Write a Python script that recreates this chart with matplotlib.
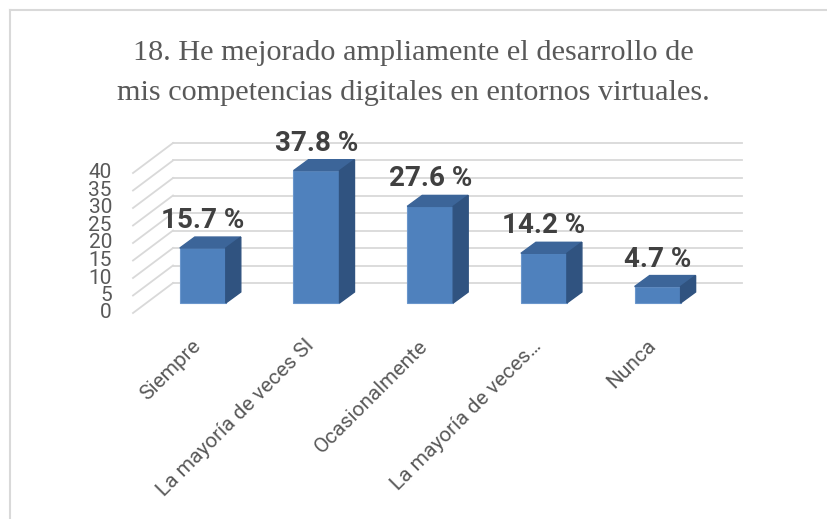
import matplotlib
matplotlib.use("Agg")
import matplotlib.pyplot as plt
from matplotlib.lines import Line2D

# datos
titulo = ["18. He mejorado ampliamente el desarrollo de",
          "mis competencias digitales en entornos virtuales."]
categorias = ["Siempre", "La mayoría de veces SI", "Ocasionalmente",
              "La mayoría de veces…", "Nunca"]
porcentajes = [15.7, 37.8, 27.6, 14.2, 4.7]
marcas = [0, 5, 10, 15, 20, 25, 30, 35, 40]

W, H = 828, 519
PX_CAT = 113.7   # pixeles por categoria
PX_VAL = 3.5     # pixeles por unidad

fig = plt.figure(figsize=(W / 100, H / 100), dpi=100)
ax = fig.add_axes([0, 0, 1, 1])
ax.set_xlim(-202.8 / PX_CAT, (W - 202.8) / PX_CAT)
ax.set_ylim(-(H - 303) / PX_VAL, 303 / PX_VAL)
ax.axis("off")

# marco del grafico
gris_marco = "#d9d9d9"
fig.add_artist(Line2D([10 / W, 10 / W], [0, 1 - 10 / H], color=gris_marco, lw=1.5))
fig.add_artist(Line2D([10 / W, 1], [1 - 10 / H, 1 - 10 / H], color=gris_marco, lw=1.5))

# pared del fondo y lineas diagonales (efecto 3D)
x_fondo_izq = (173 - 202.8) / PX_CAT
x_fondo_der = (742 - 202.8) / PX_CAT
x_frente = (133 - 202.8) / PX_CAT
dy_fondo = 20 / PX_VAL
dy_frente = -10 / PX_VAL
for t in marcas:
    ax.plot([x_fondo_izq, x_fondo_der], [t + dy_fondo, t + dy_fondo],
            color="#d9d9d9", lw=1.3, zorder=1)
    ax.plot([x_frente, x_fondo_izq], [t + dy_frente, t + dy_fondo],
            color="#d9d9d9", lw=1.3, zorder=1)
    ax.text((112 - 202.8) / PX_CAT, t + dy_frente, str(t), ha="right", va="center",
            fontsize=15, color="#595959", family="Roboto")

# barras 3D
ancho = 46 / PX_CAT
dx = 15 / PX_CAT
dy = 11 / PX_VAL
for i, v in enumerate(porcentajes):
    x0 = i - ancho / 2
    x1 = i + ancho / 2
    # cara frontal
    ax.fill([x0, x1, x1, x0], [0, 0, v, v], color="#4f81bd",
            edgecolor="#6a96cc", lw=0.8, zorder=3)
    # cara superior
    ax.fill([x0, x1, x1 + dx, x0 + dx], [v, v, v + dy, v + dy],
            color="#3c6599", zorder=3)
    # cara lateral
    ax.fill([x1, x1 + dx, x1 + dx, x1], [0, dy, v + dy, v],
            color="#305380", zorder=3)
    ax.text(i, v + 5.7, f"{v} %", ha="center", va="baseline", fontsize=20,
            fontweight="bold", color="#404040", family="Roboto", zorder=4)
    ax.text(i - 5 / PX_CAT, -11.4, categorias[i], rotation=45, rotation_mode="anchor",
            ha="right", va="center", fontsize=15, color="#595959",
            family="Roboto")

# titulo
for k, linea in enumerate(titulo):
    fig.text(413.5 / W, 1 - (60 + 40 * k) / H, linea, ha="center", va="baseline",
             fontsize=21.8, color="#595959", family="Liberation Serif")

fig.savefig("out.png", dpi=100, facecolor="white")
